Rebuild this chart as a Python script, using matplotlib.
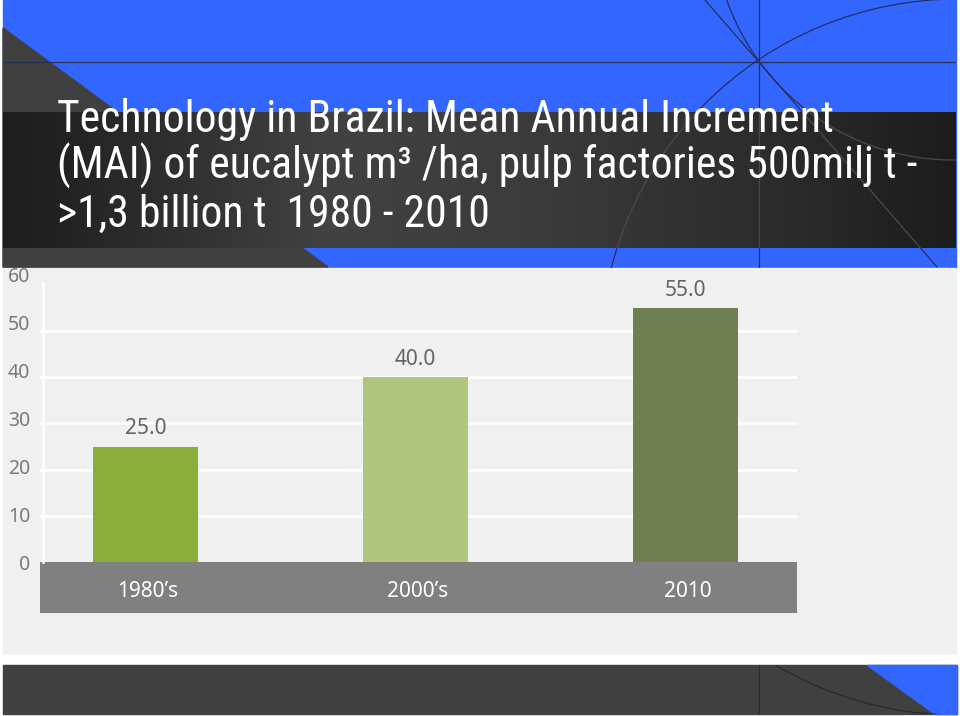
import numpy as np
import matplotlib
matplotlib.use("Agg")
import matplotlib.pyplot as plt
from matplotlib import font_manager
from matplotlib.patches import Rectangle, Polygon, Circle

# chart data
categories = ["1980’s", "2000’s", "2010"]
values = [25.0, 40.0, 55.0]
bar_colors = ["#8bae3b", "#aec67e", "#6f7e53"]
y_ticks = [0, 10, 20, 30, 40, 50, 60]

title_lines = [
    "Technology in Brazil: Mean Annual Increment",
    "(MAI) of eucalypt m³ /ha, pulp factories 500milj t -",
    ">1,3 billion t  1980 - 2010",
]

BLUE = "#3366ff"
chart_font = ["Noto Sans", "DejaVu Sans"]

# narrow face if one is around, else plain Liberation Sans fitted to width
installed = {f.name for f in font_manager.fontManager.ttflist}
title_font = "Liberation Sans"
for name in ["Liberation Sans Narrow", "Arial Narrow", "Roboto Condensed"]:
    if name in installed:
        title_font = name
        break

fig = plt.figure(figsize=(9.6, 7.16), dpi=100)
fig.patch.set_facecolor("white")

# slide background, drawn in pixel units
bg = fig.add_axes([0, 0, 1, 1])
bg.set_xlim(0, 960)
bg.set_ylim(716, 0)
bg.axis("off")

bg.add_patch(Rectangle((3, 0), 953, 268, color=BLUE, zorder=1))
bg.add_patch(Polygon([(3, 28), (328, 267), (3, 267)], closed=True,
                     color="#404040", zorder=2))

# dark title band with horizontal gradient
gx = np.linspace(3, 956, 400)
shade = np.interp(gx, [3, 60, 330, 520, 800, 956],
                  [0x1e, 0x22, 0x42, 0x3c, 0x2a, 0x1c]) / 255.0
grad = np.dstack([shade, shade, shade])
bg.imshow(grad, extent=(3, 956, 248, 112), aspect="auto", zorder=3,
          interpolation="bilinear")

# chart panel and footer band
bg.add_patch(Rectangle((3, 268), 953, 386, color="#f0f0f0", zorder=1))
bg.add_patch(Rectangle((3, 665), 954, 49, color="#404040", zorder=1))
bg.add_patch(Polygon([(867, 665), (957, 665), (957, 714), (935, 714)],
                     closed=True, color=BLUE, zorder=2))


def deco_lines(clip, color, z):
    rect = Rectangle(clip[0], clip[1], clip[2], transform=bg.transData,
                     visible=False)
    bg.add_patch(rect)
    arts = []
    arts += bg.plot([759, 759], [0, 716], color=color, lw=0.9, zorder=z)
    arts += bg.plot([3, 956], [62, 62], color=color, lw=0.9, zorder=z)
    arts += bg.plot([705, 937], [0, 267], color=color, lw=0.9, zorder=z)
    for cx, cy, r in [(958, 357, 358), (953, -80, 240)]:
        c = Circle((cx, cy), r, fill=False, ec=color, lw=0.9, zorder=z)
        bg.add_patch(c)
        arts.append(c)
    for a in arts:
        a.set_clip_path(rect)


deco_lines(((3, 0), 953, 112), "#24305a", 4)
deco_lines(((3, 248), 953, 20), "#24305a", 4)
deco_lines(((3, 112), 953, 136), "#4a4a4a", 4)
deco_lines(((3, 665), 954, 49), "#2a2a2a", 4)

baselines = [132, 179, 227]
target_width = [783, 851, 435]
title_texts = []
for line, yb in zip(title_lines, baselines):
    t = bg.text(57, yb, line, color="white", fontsize=34, family=title_font,
                va="baseline", ha="left", zorder=6)
    title_texts.append(t)

# shrink the title so its lines span the same width as in the slide
fig.canvas.draw()
rend = fig.canvas.get_renderer()
ratios = [w / t.get_window_extent(rend).width
          for t, w in zip(title_texts, target_width)]
title_size = min(34, 34 * float(np.mean(ratios)))
for t in title_texts:
    t.set_fontsize(title_size)

# bar chart
px_per_unit = 4.617
ymin = -51 / px_per_unit
ytop = 62.6
ax_top_px = 562 - ytop * px_per_unit
ax = fig.add_axes([40 / 960, (716 - 613) / 716, 757 / 960,
                   (613 - ax_top_px) / 716])
ax.set_facecolor("none")
ax.set_xlim(-0.391, 2.415)
ax.set_ylim(ymin, ytop)

x = np.arange(len(categories))
ax.axhspan(ymin, 0, color="#808080", zorder=1, lw=0)
ax.bar(x, values, width=0.389, color=bar_colors, zorder=3)

ax.set_yticks(y_ticks[1:-1])
ax.set_axisbelow(True)
ax.yaxis.grid(True, color="white", lw=1.8)
ax.tick_params(left=False, labelleft=False, bottom=False, labelbottom=False)
for s in ["top", "right", "bottom"]:
    ax.spines[s].set_visible(False)
ax.spines["left"].set_color("white")
ax.spines["left"].set_linewidth(1.8)
ax.spines["left"].set_bounds(0, 60.4)
ax.spines["left"].set_position(("outward", -2.2))

for xi, v in zip(x, values):
    ax.annotate(f"{v:.1f}", (xi, v), xytext=(0, 12.8),
                textcoords="offset points", ha="center", va="center",
                fontsize=15, color="#646464", family=chart_font, zorder=4)

for xi, cat in zip(x, categories):
    ax.text(xi + 0.01, -6.4, cat, ha="center", va="center", color="white",
            fontsize=15, family=chart_font, zorder=4)

# axis numbers sit on a slightly wider scale than the gridlines
k = px_per_unit / 4.8
sec = ax.secondary_yaxis("left", functions=(lambda y: y * k, lambda s: s / k))
sec.set_yticks(y_ticks)
sec.tick_params(length=0, labelsize=14, labelcolor="#7a7a7a", pad=7)
for lab in sec.get_yticklabels():
    lab.set_family(chart_font)
sec.spines["left"].set_visible(False)

fig.savefig("out.png", dpi=100, facecolor="white")
